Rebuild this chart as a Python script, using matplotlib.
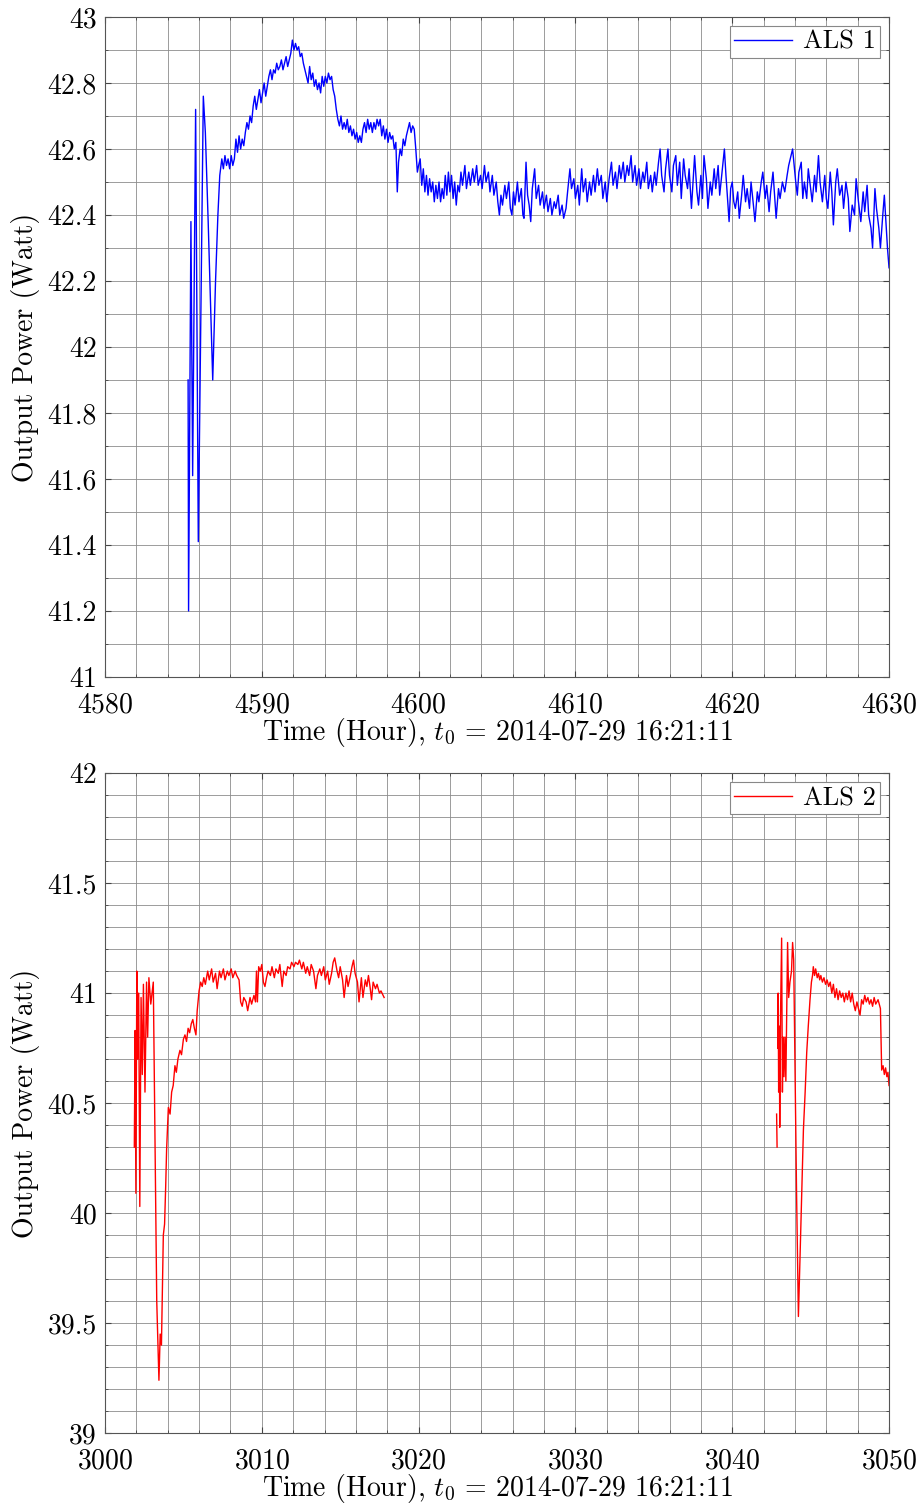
import numpy as np
import matplotlib.pyplot as plt
from matplotlib.ticker import MultipleLocator, FuncFormatter

# --- ALS 1 output power (hours since t0, Watt) ---
als1_hours = [
    4585.30, 4585.33, 4585.48, 4585.59, 4585.78, 4585.95, 4586.27, 4586.40, 4586.58,
    4586.87, 4587.05, 4587.20, 4587.32, 4587.45, 4587.55, 4587.65, 4587.75, 4587.85,
    4587.95, 4588.05, 4588.15, 4588.25, 4588.35, 4588.45, 4588.55, 4588.65, 4588.75,
    4588.85, 4588.95, 4589.05, 4589.15, 4589.25, 4589.35, 4589.45, 4589.55, 4589.65,
    4589.75, 4589.85, 4589.95, 4590.05, 4590.15, 4590.25, 4590.35, 4590.45, 4590.55,
    4590.65, 4590.75, 4590.85, 4590.95, 4591.05, 4591.15, 4591.25, 4591.35, 4591.45,
    4591.55, 4591.65, 4591.75, 4591.85, 4591.95, 4592.05, 4592.15, 4592.25, 4592.35,
    4592.45, 4592.55, 4592.65, 4592.75, 4592.85, 4592.95, 4593.05, 4593.15, 4593.25,
    4593.35, 4593.45, 4593.55, 4593.65, 4593.75, 4593.85, 4593.95, 4594.05, 4594.15,
    4594.25, 4594.35, 4594.45, 4594.55, 4594.65, 4594.75, 4594.85, 4594.95, 4595.05,
    4595.15, 4595.25, 4595.35, 4595.45, 4595.55, 4595.65, 4595.75, 4595.85, 4595.95,
    4596.05, 4596.15, 4596.25, 4596.35, 4596.45, 4596.55, 4596.65, 4596.75, 4596.85,
    4596.95, 4597.05, 4597.15, 4597.25, 4597.35, 4597.45, 4597.55, 4597.65, 4597.75,
    4597.85, 4597.95, 4598.05, 4598.15, 4598.25, 4598.35, 4598.45, 4598.55, 4598.64,
    4598.72, 4598.82, 4598.92, 4599.02, 4599.12, 4599.22, 4599.32, 4599.42, 4599.52,
    4599.62, 4599.72, 4599.82, 4599.92,
    4600.00, 4600.10, 4600.20, 4600.30, 4600.40, 4600.50, 4600.60, 4600.70, 4600.80,
    4600.90, 4601.00, 4601.10, 4601.20, 4601.30, 4601.40, 4601.50, 4601.60, 4601.70,
    4601.80, 4601.90, 4602.00, 4602.10, 4602.20, 4602.30, 4602.40, 4602.50, 4602.60,
    4602.70, 4602.80, 4602.95, 4603.05, 4603.20, 4603.30, 4603.45, 4603.55, 4603.70,
    4603.80, 4603.95, 4604.05, 4604.20, 4604.30, 4604.45, 4604.55, 4604.70, 4604.80,
    4604.95, 4605.05, 4605.15, 4605.25, 4605.35, 4605.50, 4605.60, 4605.75, 4605.85,
    4605.95, 4606.05, 4606.15, 4606.30, 4606.40, 4606.55, 4606.65, 4606.72, 4606.85,
    4606.95, 4607.05, 4607.15, 4607.25, 4607.40, 4607.50, 4607.65, 4607.75, 4607.90,
    4608.00, 4608.15, 4608.25, 4608.40, 4608.50, 4608.65, 4608.75, 4608.90, 4609.00,
    4609.15, 4609.25, 4609.40, 4609.50, 4609.65, 4609.75, 4609.90, 4610.00, 4610.15,
    4610.25, 4610.40, 4610.50, 4610.65, 4610.75, 4610.90, 4611.00, 4611.15, 4611.25,
    4611.40, 4611.50, 4611.65, 4611.75, 4611.90, 4612.00, 4612.15, 4612.30, 4612.40,
    4612.55, 4612.65, 4612.80, 4612.90, 4613.05, 4613.15, 4613.30, 4613.40, 4613.55,
    4613.65, 4613.80, 4613.90, 4614.05, 4614.15, 4614.30, 4614.40, 4614.55, 4614.65,
    4614.80, 4614.90, 4615.05, 4615.15, 4615.30, 4615.40, 4615.50, 4615.65, 4615.75,
    4615.90, 4616.00, 4616.15, 4616.25, 4616.40, 4616.50, 4616.65, 4616.75, 4616.90,
    4617.00, 4617.15, 4617.25, 4617.40, 4617.50, 4617.60, 4617.75, 4617.85, 4618.00,
    4618.10, 4618.20, 4618.35, 4618.45, 4618.60, 4618.70, 4618.85, 4618.95, 4619.10,
    4619.20, 4619.35, 4619.50, 4619.60, 4619.70, 4619.80, 4619.90, 4620.00, 4620.10,
    4620.20, 4620.35, 4620.45, 4620.60, 4620.70, 4620.85, 4620.95, 4621.10, 4621.20,
    4621.35, 4621.45, 4621.60, 4621.70, 4621.85, 4621.95, 4622.10, 4622.20, 4622.35,
    4622.45, 4622.60, 4622.70, 4622.80, 4622.95, 4623.05, 4623.20, 4623.35, 4623.50,
    4623.60, 4623.75, 4623.85, 4623.95, 4624.05, 4624.15, 4624.25, 4624.40, 4624.50,
    4624.60, 4624.75, 4624.85, 4625.00, 4625.10, 4625.25, 4625.35, 4625.50, 4625.60,
    4625.75, 4625.90, 4626.00, 4626.10, 4626.25, 4626.35, 4626.45, 4626.60, 4626.70,
    4626.85, 4627.00, 4627.10, 4627.25, 4627.40, 4627.50, 4627.65, 4627.80, 4627.90,
    4628.05, 4628.20, 4628.35, 4628.45, 4628.60, 4628.70, 4628.85, 4628.95, 4629.10,
    4629.20, 4629.35, 4629.45, 4629.60, 4629.70, 4629.80, 4629.90, 4630.00,
]
als1_power = [
    41.90, 41.20, 42.38, 41.61, 42.72, 41.41, 42.76, 42.65, 42.38,
    41.90, 42.20, 42.40, 42.52, 42.57, 42.54, 42.58, 42.55, 42.57,
    42.54, 42.58, 42.55, 42.57, 42.63, 42.59, 42.64, 42.60, 42.63,
    42.61, 42.65, 42.68, 42.66, 42.70, 42.68, 42.73, 42.76, 42.72,
    42.75, 42.78, 42.74, 42.77, 42.80, 42.76, 42.79, 42.82, 42.84,
    42.81, 42.84, 42.83, 42.86, 42.84, 42.85, 42.87, 42.84, 42.86,
    42.88, 42.85, 42.87, 42.89, 42.93, 42.90, 42.92, 42.90, 42.91,
    42.88, 42.89, 42.86, 42.84, 42.82, 42.80, 42.85, 42.81, 42.83,
    42.79, 42.81, 42.78, 42.80, 42.77, 42.82, 42.79, 42.82, 42.80,
    42.83, 42.81, 42.82, 42.78, 42.76, 42.72, 42.69, 42.67, 42.70,
    42.66, 42.68, 42.66, 42.69, 42.65, 42.67, 42.64, 42.66, 42.63,
    42.65, 42.62, 42.64, 42.62, 42.66, 42.68, 42.65, 42.69, 42.66,
    42.68, 42.65, 42.68, 42.66, 42.69, 42.67, 42.69, 42.64, 42.67,
    42.63, 42.66, 42.62, 42.65, 42.63, 42.64, 42.60, 42.62, 42.47,
    42.56, 42.60, 42.58, 42.63, 42.61, 42.64, 42.66, 42.68, 42.65,
    42.67, 42.66, 42.60, 42.53,
    42.55, 42.57, 42.49, 42.54, 42.47, 42.52, 42.46, 42.51, 42.47,
    42.50, 42.44, 42.49, 42.45, 42.50, 42.44, 42.48, 42.45, 42.52,
    42.46, 42.53, 42.47, 42.52, 42.45, 42.50, 42.43, 42.49, 42.47,
    42.53, 42.49, 42.55, 42.48, 42.53, 42.49, 42.54, 42.50, 42.55,
    42.49, 42.52, 42.48, 42.55, 42.50, 42.53, 42.47, 42.52, 42.46,
    42.50, 42.44, 42.40, 42.46, 42.43, 42.49, 42.45, 42.50, 42.42,
    42.40, 42.47, 42.43, 42.50, 42.44, 42.48, 42.40, 42.39, 42.56,
    42.46, 42.43, 42.38, 42.48, 42.54, 42.45, 42.49, 42.43, 42.47,
    42.42, 42.46, 42.41, 42.45, 42.40, 42.44, 42.42, 42.46, 42.40,
    42.43, 42.39, 42.42, 42.47, 42.54, 42.48, 42.51, 42.45, 42.49,
    42.43, 42.54, 42.47, 42.51, 42.44, 42.50, 42.46, 42.52, 42.47,
    42.54, 42.49, 42.52, 42.45, 42.50, 42.44, 42.51, 42.56, 42.49,
    42.53, 42.48, 42.55, 42.51, 42.56, 42.50, 42.55, 42.52, 42.58,
    42.50, 42.55, 42.49, 42.54, 42.48, 42.53, 42.50, 42.56, 42.48,
    42.52, 42.47, 42.53, 42.49, 42.56, 42.60, 42.52, 42.47, 42.54,
    42.60, 42.52, 42.47, 42.55, 42.58, 42.49, 42.56, 42.45, 42.57,
    42.52, 42.48, 42.54, 42.42, 42.50, 42.58, 42.47, 42.43, 42.52,
    42.45, 42.58, 42.51, 42.42, 42.50, 42.46, 42.54, 42.48, 42.55,
    42.46, 42.53, 42.60, 42.52, 42.45, 42.38, 42.48, 42.50, 42.44,
    42.42, 42.47, 42.39, 42.46, 42.52, 42.44, 42.48, 42.42, 42.50,
    42.43, 42.38, 42.47, 42.44, 42.50, 42.53, 42.45, 42.49, 42.41,
    42.47, 42.53, 42.46, 42.39, 42.48, 42.45, 42.50, 42.47, 42.52,
    42.55, 42.58, 42.60, 42.55, 42.50, 42.46, 42.53, 42.56, 42.45,
    42.50, 42.45, 42.54, 42.48, 42.44, 42.52, 42.47, 42.58, 42.50,
    42.44, 42.52, 42.45, 42.42, 42.53, 42.47, 42.37, 42.50, 42.54,
    42.46, 42.49, 42.42, 42.50, 42.45, 42.35, 42.43, 42.40, 42.51,
    42.44, 42.38, 42.47, 42.41, 42.49, 42.40, 42.36, 42.30, 42.48,
    42.42, 42.36, 42.30, 42.40, 42.46, 42.38, 42.30, 42.24,
]

# --- ALS 2 output power (NaN marks gaps in the record) ---
nan = float("nan")
als2_hours = [
    3001.87, 3001.92, 3001.97, 3002.03, 3002.08, 3002.15, 3002.22, 3002.30, 3002.38,
    3002.45, 3002.55, 3002.65, 3002.72, 3002.80, 3002.92, 3003.08, 3003.30, 3003.44,
    3003.52, 3003.60, 3003.66, 3003.72, 3003.80, 3003.87, 3003.93, 3004.04, 3004.15,
    3004.25, 3004.35, 3004.46, 3004.55, 3004.65, 3004.78, 3004.88, 3005.00, 3005.10,
    3005.20, 3005.30, 3005.40, 3005.50, 3005.60, 3005.70, 3005.80, 3005.88, 3006.00,
    3006.10, 3006.20, 3006.30, 3006.40, 3006.55, 3006.65, 3006.80, 3006.90, 3007.05,
    3007.15, 3007.30, 3007.40, 3007.55, 3007.65, 3007.80, 3007.90, 3008.05, 3008.15,
    3008.30, 3008.40, 3008.55, 3008.65, 3008.75, 3008.85, 3009.00, 3009.10, 3009.25,
    3009.35, 3009.50, 3009.60, 3009.66, 3009.72, 3009.80, 3009.90, 3010.00, 3010.10,
    3010.20, 3010.30, 3010.40, 3010.55, 3010.65, 3010.80, 3010.90, 3011.05, 3011.15,
    3011.30, 3011.40, 3011.55, 3011.65, 3011.80, 3011.90, 3012.05, 3012.15, 3012.30,
    3012.40, 3012.55, 3012.65, 3012.80, 3012.90, 3013.05, 3013.15, 3013.30, 3013.45,
    3013.55, 3013.70, 3013.80, 3013.95, 3014.05, 3014.20, 3014.30, 3014.45, 3014.55,
    3014.65, 3014.80, 3014.90, 3015.00, 3015.15, 3015.25, 3015.40, 3015.50, 3015.65,
    3015.75, 3015.85, 3015.95, 3016.10, 3016.20, 3016.35, 3016.45, 3016.60, 3016.70,
    3016.80, 3016.90, 3017.00, 3017.10, 3017.25, 3017.35, 3017.50, 3017.60, 3017.80,
    nan,
    3042.83, 3042.86,
    nan,
    3042.90, 3042.93, 3042.96, 3043.00, 3043.03, 3043.08, 3043.15, 3043.20, 3043.25,
    3043.30, 3043.36, 3043.42, 3043.53, 3043.60, 3043.68, 3043.78, 3043.85, 3043.92,
    3044.10, 3044.22, 3044.32, 3044.45, 3044.54, 3044.65, 3044.75, 3044.85, 3044.96,
    3045.05, 3045.12, 3045.17, 3045.25, 3045.32, 3045.42, 3045.50, 3045.58, 3045.65,
    3045.75, 3045.85, 3045.95, 3046.05, 3046.15, 3046.25, 3046.35, 3046.45, 3046.55,
    3046.65, 3046.75, 3046.85, 3046.95, 3047.05, 3047.15, 3047.25, 3047.35, 3047.45,
    3047.55, 3047.65, 3047.75, 3047.85, 3047.95, 3048.05, 3048.15, 3048.25, 3048.35,
    3048.45, 3048.55, 3048.65, 3048.75, 3048.85, 3048.95, 3049.05, 3049.15, 3049.30,
    3049.45, 3049.53, 3049.62, 3049.70, 3049.78, 3049.86, 3049.93, 3050.00,
]
als2_power = [
    40.30, 40.83, 40.09, 41.10, 40.70, 41.00, 40.03, 40.98, 40.63,
    41.04, 40.55, 41.05, 40.80, 41.07, 40.95, 41.05, 39.60, 39.24,
    39.45, 39.40, 39.65, 39.90, 39.95, 40.12, 40.29, 40.48, 40.45,
    40.55, 40.58, 40.67, 40.64, 40.70, 40.74, 40.72, 40.79, 40.81,
    40.78, 40.84, 40.82, 40.86, 40.88, 40.84, 40.81, 40.92, 41.01,
    41.05, 41.03, 41.07, 41.04, 41.10, 41.06, 41.11, 41.05, 41.09,
    41.02, 41.10, 41.07, 41.11, 41.06, 41.10, 41.08, 41.11, 41.07,
    41.10, 41.08, 41.06, 40.96, 40.94, 40.98, 40.96, 40.92, 40.98,
    40.95, 40.99, 40.96, 41.10, 40.96, 41.12, 41.10, 41.13, 41.05,
    41.03, 41.07, 41.10, 41.08, 41.12, 41.07, 41.11, 41.09, 41.13,
    41.03, 41.10, 41.08, 41.12, 41.11, 41.14, 41.12, 41.14, 41.13,
    41.15, 41.11, 41.14, 41.09, 41.12, 41.08, 41.13, 41.10, 41.02,
    41.08, 41.11, 41.08, 41.12, 41.06, 41.10, 41.04, 41.09, 41.14,
    41.16, 41.10, 41.07, 41.12, 41.06, 40.98, 41.08, 41.03, 41.08,
    41.12, 41.15, 41.09, 41.05, 40.96, 41.07, 40.98, 41.06, 41.03,
    41.08, 41.03, 40.97, 41.05, 41.02, 41.04, 41.00, 41.01, 40.98,
    nan,
    40.45, 40.30,
    nan,
    40.75, 41.00, 40.55, 40.85, 40.39, 40.90, 41.25, 40.55, 40.80,
    40.62, 40.80, 40.60, 41.23, 40.98, 41.05, 41.10, 41.23, 41.15,
    40.10, 39.53, 39.79, 40.15, 40.38, 40.55, 40.73, 40.85, 40.97,
    41.05, 41.08, 41.12, 41.08, 41.11, 41.07, 41.09, 41.06, 41.08,
    41.05, 41.07, 41.04, 41.06, 41.03, 41.05, 41.00, 41.04, 40.98,
    41.02, 40.97, 41.01, 40.98, 41.00, 40.96, 41.00, 40.97, 41.01,
    40.96, 41.00, 40.95, 40.92, 40.96, 40.93, 40.90, 40.97, 40.95,
    40.99, 40.96, 40.98, 40.95, 40.97, 40.94, 40.98, 40.95, 40.97,
    40.93, 40.65, 40.67, 40.63, 40.66, 40.62, 40.64, 40.58,
]

plt.rcParams["font.family"] = "serif"
plt.rcParams["font.serif"] = ["cmr10"]
plt.rcParams["mathtext.fontset"] = "cm"
plt.rcParams["axes.formatter.use_mathtext"] = True
plt.rcParams["axes.unicode_minus"] = False

fig = plt.figure(figsize=(9.21, 15.05), dpi=100)
ax1 = fig.add_axes([0.114, 0.5502, 0.8513, 0.4385])
ax2 = fig.add_axes([0.114, 0.0478, 0.8513, 0.4385])

xlabel = r"Time (Hour), $t_0$ = 2014-07-29 16:21:11"
trim = FuncFormatter(lambda v, pos: "%g" % round(v, 3))

panels = [
    (ax1, als1_hours, als1_power, "#0000ff", "ALS 1", (4580, 4630), (41, 43), 0.2, 0.1),
    (ax2, als2_hours, als2_power, "#ff0000", "ALS 2", (3000, 3050), (39, 42), 0.5, 0.1),
]

for ax, xs, ys, col, name, xl, yl, ymaj, ymin in panels:
    ax.plot(xs, ys, color=col, lw=1.0, label=name)
    ax.set_xlim(*xl)
    ax.set_ylim(*yl)
    ax.xaxis.set_major_locator(MultipleLocator(10))
    ax.xaxis.set_minor_locator(MultipleLocator(2))
    ax.yaxis.set_major_locator(MultipleLocator(ymaj))
    ax.yaxis.set_minor_locator(MultipleLocator(ymin))
    ax.yaxis.set_major_formatter(trim)
    ax.grid(True, which="both", color="#8c8c8c", lw=0.6)
    ax.set_axisbelow(True)
    ax.tick_params(which="both", direction="in", top=True, right=True,
                   labelsize=20, color="#444444")
    ax.tick_params(which="major", length=4)
    ax.tick_params(which="minor", length=2.5)
    ax.tick_params(axis="x", which="major", pad=11)
    ax.tick_params(axis="y", which="major", pad=6)
    for s in ax.spines.values():
        s.set_color("#555555")
        s.set_linewidth(0.8)
    ax.set_xlabel(xlabel, fontsize=20, labelpad=-2)
    ax.set_ylabel("Output Power (Watt)", fontsize=20, labelpad=5)
    leg = ax.legend(loc="upper right", fontsize=19, fancybox=False,
                    framealpha=1, edgecolor="#888888", handlelength=2.2,
                    borderpad=0.15, handletextpad=0.4, borderaxespad=0.35)
    leg.get_frame().set_linewidth(0.8)

fig.savefig("out.png", dpi=100)
